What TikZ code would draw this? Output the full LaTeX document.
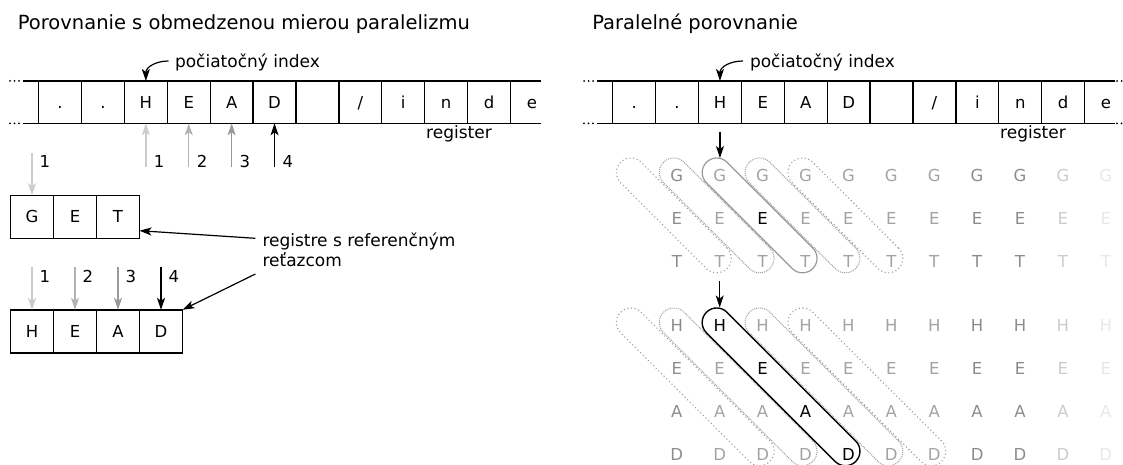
\documentclass[tikz,border=0pt]{standalone}
\usepackage{fontspec}
\setmainfont{DejaVu Sans}
\usetikzlibrary{arrows.meta,calc}
\definecolor{arrA}{gray}{0.80}
\definecolor{arrB}{gray}{0.70}
\definecolor{arrC}{gray}{0.60}
\definecolor{gA}{gray}{0.55}
\definecolor{gB}{gray}{0.64}
\definecolor{gC}{gray}{0.80}
\definecolor{gD}{gray}{0.91}
\definecolor{pillgray}{gray}{0.60}
\definecolor{dotgray}{gray}{0.62}
\begin{document}
\begin{tikzpicture}[x=1pt,y=-1pt,
  every node/.style={inner sep=0pt,outer sep=0pt},
  title/.style={font=\fontsize{19.5}{23}\selectfont,anchor=base west},
  lbl/.style={font=\fontsize{17}{20}\selectfont},
  num/.style={font=\fontsize{16.5}{20}\selectfont,anchor=west},
  letter/.style={font=\fontsize{16.5}{20}\selectfont,text height=12.4pt,text depth=0pt},
  regcell/.style={letter,minimum width=42.9pt,minimum height=42.3pt},
  boxcell/.style={letter,draw,line width=1.4pt,minimum width=43pt,minimum height=43pt},
  regline/.style={line width=1.3pt},
  tip/.style={-{Stealth[length=12pt,width=8pt,inset=3pt]},line width=1.3pt},
  pill/.style={rectangle,rotate=-45,minimum height=29pt,rounded corners=14.4pt},
  pillsolid/.style={pill,draw=pillgray,line width=1.2pt},
  pillblack/.style={pill,draw=black,line width=1.4pt},
  pilldense/.style={pill,draw=dotgray,line width=1pt,dash pattern=on 1pt off 1pt},
  pillloose/.style={pill,draw=dotgray,line width=1.1pt,dash pattern=on 1.1pt off 2.6pt},
]
\useasboundingbox (0,0) rectangle (1123,465);

% titles
\node[title] (t1) at (17.9,29.3) {Porovnanie s obmedzenou mierou paralelizmu};
\node[title] (t2) at (592.3,29.3) {Paralelné porovnanie};

% the two input registers
\foreach \ch [count=\i from 0] in {.,.,H,E,A,D,{},/,i,n,d,e} {
  \node[regcell] (L\i) at (60.05+42.9*\i,102.6) {\ch};
  \node[regcell] (R\i) at (634.15+42.9*\i,102.6) {\ch};
}
\draw[regline] (23,81) -- (541,81) (23,123.3) -- (541,123.3);
\draw[regline] (597,81) -- (1115,81) (597,123.3) -- (1115,123.3);
\foreach \i in {0,...,11} {
  \draw[regline] (L\i.west |- 0,81) -- (L\i.west |- 0,123.3);
  \draw[regline] (R\i.west |- 0,81) -- (R\i.west |- 0,123.3);
}
\foreach \x in {10,14.5,19,584,588.5,593,1117,1121.5}
  \foreach \y in {81,123.3}
    \fill (\x,\y) circle (1);

\node[lbl,anchor=base] (regL) at (459,138.5) {register};
\node[lbl,anchor=base] (regR) at (1033,138.5) {register};

% start index markers
\node[lbl,anchor=base west] (idxL) at (175,68) {počiatočný index};
\node[lbl,anchor=base west] (idxR) at (750,68) {počiatočný index};
\coordinate (idxLs) at (168.5,61);
\coordinate (idxRs) at (743,61);
\draw[tip,line width=1.2pt] (idxLs) .. controls (156,61) and (145.85,67) .. (L2.center |- 0,81);
\draw[tip,line width=1.2pt] (idxRs) .. controls (730,61) and (719.95,67) .. (R2.center |- 0,81);

% left: comparison with limited parallelism
\foreach \ch [count=\i] in {G,E,T}
  \node[boxcell] (g\i) at (32+43*\i-43,216.7) {\ch};
\foreach \ch [count=\i] in {H,E,A,D}
  \node[boxcell] (h\i) at (32+43*\i-43,331.3) {\ch};

\coordinate (s0) at (32,153.3);
\draw[tip,arrA] (s0) -- (g1.north);
\node[num] (s0n) at (39.5,161.7) {1};

\foreach \i/\c/\n in {2/arrA/1,3/arrB/2,4/arrC/3,5/black/4} {
  \draw[tip,\c] (L\i.center |- 0,166.7) -- (L\i.center |- 0,123.3);
  \node[num] (ln\n) at ($(L\i.center |- 0,161.7)+(8,0)$) {\n};
}
\foreach \i/\c in {1/arrA,2/arrB,3/arrC,4/black} {
  \draw[tip,\c] ($(h\i.north)+(0,-42.5)$) -- (h\i.north);
  \node[num] (hn\i) at ($(h\i.north)+(7.5,-33.8)$) {\i};
}

\node[lbl,align=left,anchor=north west] (refl) at (262.5,233) {registre s referenčným\\reťazcom};
\coordinate (ra) at (255.4,238.3);
\coordinate (rb) at (255.4,274);
\draw[tip,line width=1.2pt] (ra) -- ($(g3.east)+(0,14)$);
\draw[tip,line width=1.2pt] (rb) -- (h4.north east);

% right: fully parallel comparison
\foreach \c/\cl in {0/gA,1/gB,2/gB,3/gB,4/gB,5/gB,6/gB,7/gA,8/gA,9/gC,10/gD} {
  \foreach \ch [count=\r] in {G,E,T} {
    \def\tc{\cl}
    \ifnum\c=2 \ifnum\r=2 \def\tc{black}\fi\fi
    \node[letter,text=\tc] (T\r-\c) at (676.8+42.9*\c,175.5+42.9*\r-42.9) {\ch};
  }
  \foreach \ch [count=\r] in {H,E,A,D} {
    \def\tc{\cl}
    \ifnum\c=\r\relax \def\tc{black}\fi
    \node[letter,text=\tc] (B\r-\c) at (676.8+42.9*\c,325.5+42.9*\r-42.9) {\ch};
  }
}

\foreach \c/\st in {-1/pillloose,0/pilldense,1/pillsolid,2/pilldense,3/pillloose}
  \node[\st,minimum width=150.3pt] (PT\c) at (676.8+42.9*\c+42.9-3,175.5+42.9-3) {};
\foreach \c/\st in {-1/pillloose,0/pilldense,1/pillblack,2/pilldense,3/pillloose}
  \node[\st,minimum width=211pt] (PB\c) at (676.8+42.9*\c+64.35-3,325.5+64.35-3) {};

\draw[tip] (R2.center |- 0,131.7) -- (R2.center |- 0,158);
\draw[tip] ($(T3-1)+(0,19.7)$) -- ($(B1-1)+(0,-18)$);
\end{tikzpicture}
\end{document}
